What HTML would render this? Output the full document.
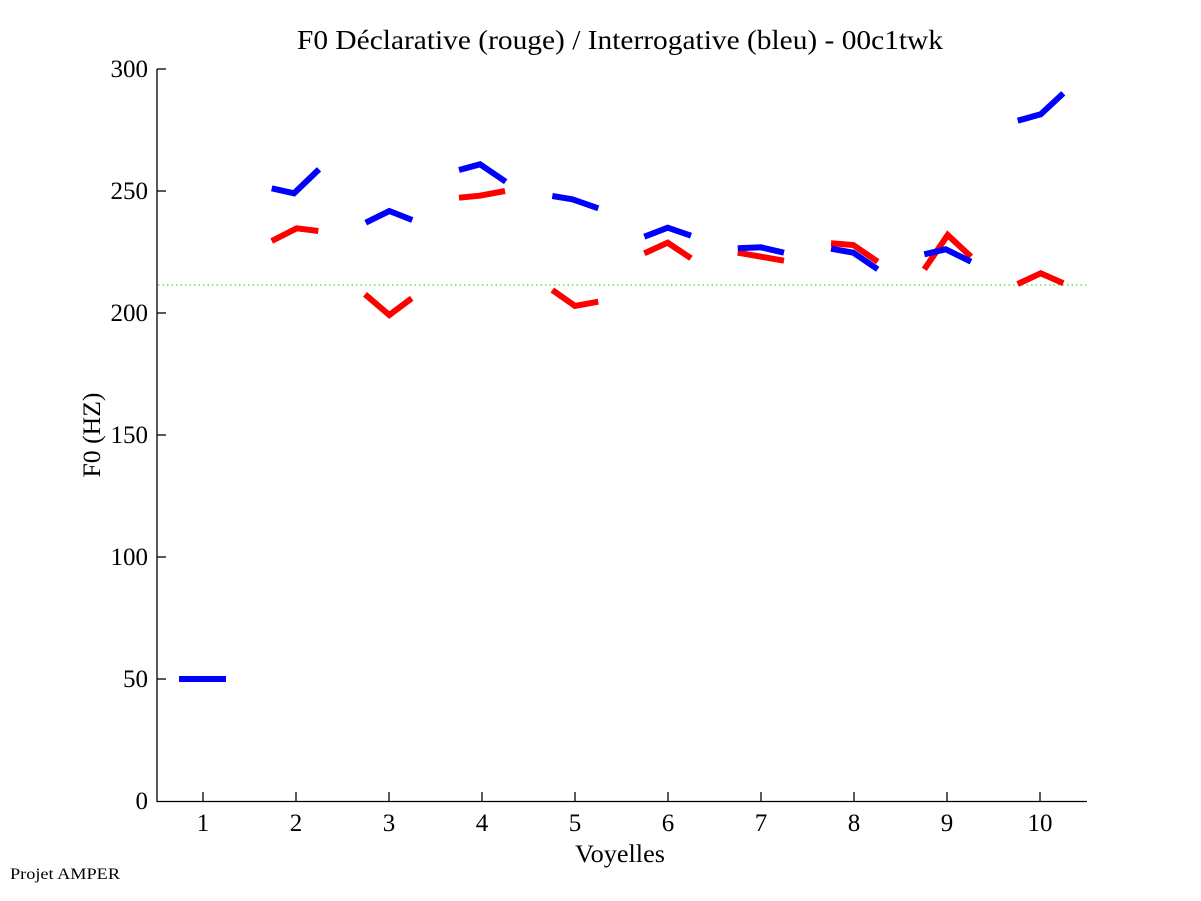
<!DOCTYPE html>
<html><head><meta charset="utf-8"><style>
html,body{margin:0;padding:0;background:#fff;}
svg{display:block;}
text{font-family:"Liberation Serif","Times New Roman",serif;fill:#000;}
</style></head><body>
<svg width="1201" height="901" viewBox="0 0 1201 901" xmlns="http://www.w3.org/2000/svg">
<rect width="1201" height="901" fill="#fff"/>
<text x="620" y="49" font-size="27" text-anchor="middle" textLength="646" lengthAdjust="spacingAndGlyphs">F0 Déclarative (rouge) / Interrogative (bleu) - 00c1twk</text>
<g stroke="#000" stroke-width="1.3" fill="none">
<line x1="157" y1="69" x2="157" y2="802"/>
<line x1="157" y1="801.5" x2="1087" y2="801.5"/>
<line x1="157" y1="69" x2="166" y2="69"/>
<line x1="157" y1="191" x2="166" y2="191"/>
<line x1="157" y1="313" x2="166" y2="313"/>
<line x1="157" y1="435" x2="166" y2="435"/>
<line x1="157" y1="557" x2="166" y2="557"/>
<line x1="157" y1="679" x2="166" y2="679"/>
<line x1="203" y1="801" x2="203" y2="792"/>
<line x1="296" y1="801" x2="296" y2="792"/>
<line x1="389" y1="801" x2="389" y2="792"/>
<line x1="482" y1="801" x2="482" y2="792"/>
<line x1="575" y1="801" x2="575" y2="792"/>
<line x1="668" y1="801" x2="668" y2="792"/>
<line x1="761" y1="801" x2="761" y2="792"/>
<line x1="854" y1="801" x2="854" y2="792"/>
<line x1="947" y1="801" x2="947" y2="792"/>
<line x1="1040" y1="801" x2="1040" y2="792"/>
</g>
<g font-size="25" text-anchor="end">
<text x="148" y="77">300</text>
<text x="148" y="199">250</text>
<text x="148" y="321">200</text>
<text x="148" y="443">150</text>
<text x="148" y="565">100</text>
<text x="148" y="687">50</text>
<text x="148" y="809">0</text>
</g>
<g font-size="25" text-anchor="middle">
<text x="203" y="831">1</text>
<text x="296" y="831">2</text>
<text x="389" y="831">3</text>
<text x="482" y="831">4</text>
<text x="575" y="831">5</text>
<text x="668" y="831">6</text>
<text x="761" y="831">7</text>
<text x="854" y="831">8</text>
<text x="947" y="831">9</text>
<text x="1040" y="831">10</text>
</g>
<text x="620" y="862" font-size="25" text-anchor="middle" textLength="90" lengthAdjust="spacingAndGlyphs">Voyelles</text>
<text transform="translate(100,435) rotate(-90)" font-size="25" text-anchor="middle" textLength="85" lengthAdjust="spacingAndGlyphs">F0 (HZ)</text>
<text x="10" y="879" font-size="16" textLength="110" lengthAdjust="spacingAndGlyphs">Projet AMPER</text>
<line x1="158" y1="285" x2="1087" y2="285" stroke="#44dd44" stroke-width="1.2" stroke-dasharray="1.5 3"/>
<g stroke="#ff0000" stroke-width="6" fill="none" stroke-linejoin="miter">
<polyline points="271.7,241 296.7,228.3 318.3,231"/>
<polyline points="365,294.3 389.3,315 411.7,298.3"/>
<polyline points="459,197.7 480,195.7 505,191"/>
<polyline points="552.3,290 575,306 598.3,301.7"/>
<polyline points="644.3,253.3 667.7,242.7 691,258.3"/>
<polyline points="737.7,252.7 761,256.7 784,260.7"/>
<polyline points="831,243.3 853.3,245 877.7,261.7"/>
<polyline points="924.3,269.3 947.7,235 971,256.7"/>
<polyline points="1017.7,284 1040.7,273.3 1063.3,283.3"/>
</g>
<g stroke="#0000ff" stroke-width="6" fill="none" stroke-linejoin="miter">
<polyline points="179,679 226,679"/>
<polyline points="271.7,188.3 294,193.3 319,169.3"/>
<polyline points="365.7,222.7 389.3,211 412.3,220"/>
<polyline points="459,170 480,164.3 505.7,181.7"/>
<polyline points="552.3,196 572.3,199.3 598.3,208.3"/>
<polyline points="644.3,236.7 667.7,227.7 691,235.7"/>
<polyline points="737.7,248.3 761,247.3 784,252.7"/>
<polyline points="831,248.7 853.3,252.7 877.7,269.3"/>
<polyline points="924.3,254.3 945.7,249.3 971,261.7"/>
<polyline points="1017.7,120.7 1040.7,114.3 1063.3,93.3"/>
</g>
</svg>
</body></html>
